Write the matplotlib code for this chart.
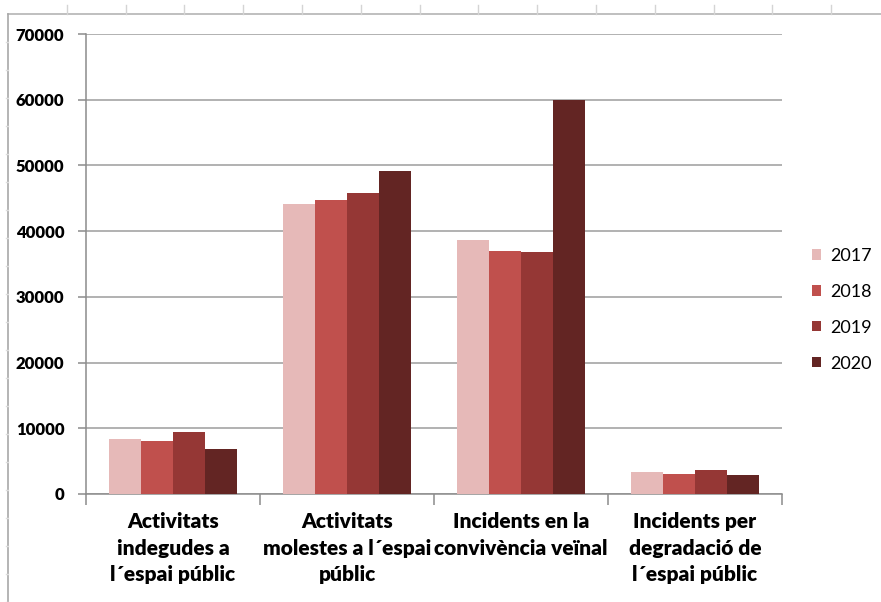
import matplotlib
matplotlib.use("Agg")
import matplotlib.pyplot as plt
from matplotlib.lines import Line2D
from matplotlib.patches import Patch
import numpy as np

categories = [
    "Activitats\nindegudes a\nl\u00b4espai públic",
    "Activitats\nmolestes a l\u00b4espai\npúblic",
    "Incidents en la\nconvivència veïnal",
    "Incidents per\ndegradació de\nl\u00b4espai públic",
]
years = ["2017", "2018", "2019", "2020"]
v2017 = [8400, 44100, 38600, 3300]
v2018 = [8000, 44700, 37050, 3100]
v2019 = [9400, 45750, 36800, 3700]
v2020 = [6800, 49200, 60000, 2850]
series = [v2017, v2018, v2019, v2020]
colors = ["#E6B9B8", "#C0504D", "#953735", "#632523"]
yticks = [0, 10000, 20000, 30000, 40000, 50000, 60000, 70000]

FONT = "Lato"
W, H = 881, 602
fig = plt.figure(figsize=(W / 100, H / 100), dpi=100)
ax = fig.add_axes([86 / W, 1 - 494 / H, (782 - 86) / W, (494 - 34) / H])

x = np.arange(len(categories))
bw = 0.184
for i, (vals, c, yr) in enumerate(zip(series, colors, years)):
    ax.bar(x + (i - 1.5) * bw, vals, width=bw, color=c, edgecolor="none",
           label=yr, zorder=3)

ax.set_xlim(-0.5, 3.5)
ax.set_ylim(0, 70000)
ax.set_yticks(yticks)
ax.set_yticklabels([str(t) for t in yticks], fontfamily=FONT,
                   fontweight="heavy", fontsize=12)
ax.yaxis.grid(True, color="#9c9c9c", linewidth=1.1, zorder=0)
ax.set_axisbelow(True)
for s in ["top", "right"]:
    ax.spines[s].set_visible(False)
for s in ["left", "bottom"]:
    ax.spines[s].set_color("#8c8c8c")
    ax.spines[s].set_linewidth(1.1)
ax.tick_params(axis="y", length=6, width=1.1, color="#8c8c8c", pad=9.5)

# category boundaries as ticks; labels drawn as text
ax.set_xticks([-0.5, 0.5, 1.5, 2.5, 3.5])
ax.set_xticklabels([])
ax.tick_params(axis="x", length=8, width=1.1, color="#8c8c8c")
for xi, lab in zip(x, categories):
    ax.text(xi, -2800, lab, ha="center", va="top", fontfamily=FONT,
            fontweight="heavy", fontsize=15, linespacing=1.46,
            transform=ax.transData)

handles = [Patch(facecolor=c, edgecolor="none") for c in colors]
fig.legend(handles, years, loc="upper left",
           bbox_to_anchor=(812 / W, 1 - 248 / H), frameon=False,
           prop={"family": FONT, "size": 13}, handlelength=0.5,
           handleheight=0.5, handletextpad=0.5, labelspacing=1.1,
           borderpad=0, borderaxespad=0)

# spreadsheet frame
fig.add_artist(Line2D([8 / W, 1], [1 - 14 / H] * 2, transform=fig.transFigure,
                      color="#b4b4b4", lw=1.2))
fig.add_artist(Line2D([8 / W] * 2, [0, 1 - 14 / H], transform=fig.transFigure,
                      color="#a8a8a8", lw=1.2))
for k in range(15):
    xp = 8 + 58.8 * (k + 1)
    if xp > W:
        break
    fig.add_artist(Line2D([xp / W] * 2, [1 - 5 / H, 1 - 14 / H],
                          transform=fig.transFigure, color="#d4d4d4", lw=1.0))
for k in range(25):
    yp = 14 + 28 * (k + 1)
    if yp > H:
        break
    fig.add_artist(Line2D([5.5 / W, 7.5 / W], [1 - yp / H] * 2,
                          transform=fig.transFigure, color="#dcdcdc", lw=1.0))

fig.savefig("out.png", dpi=100)
